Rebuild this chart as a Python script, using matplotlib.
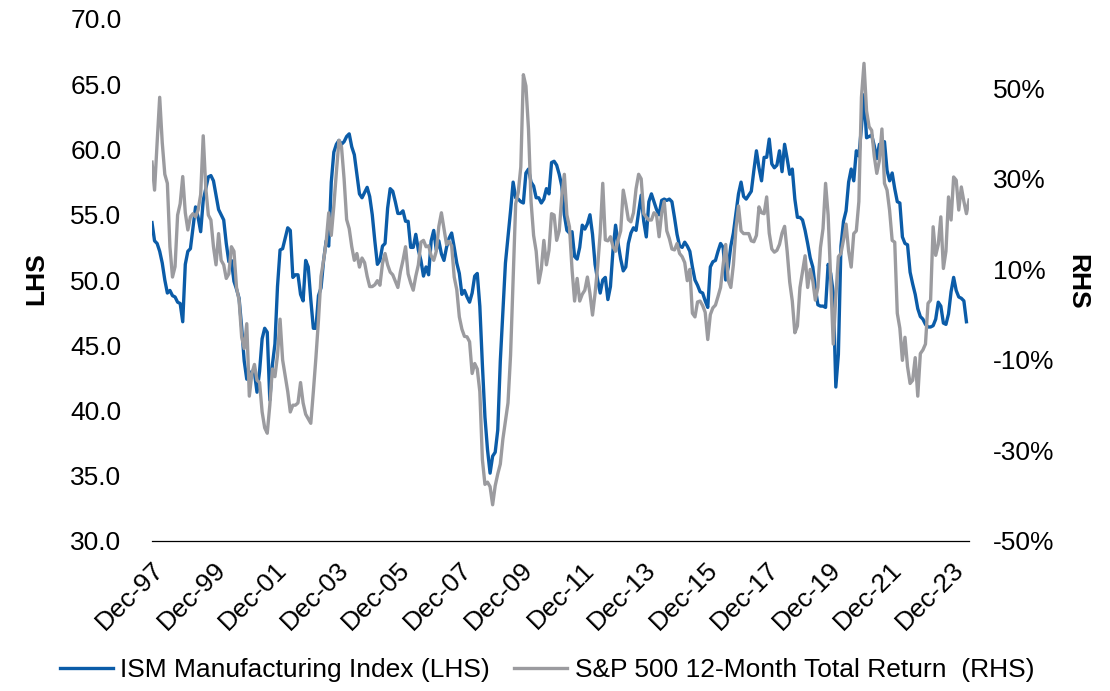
import numpy as np
import matplotlib
matplotlib.use("Agg")
import matplotlib.pyplot as plt
from matplotlib.ticker import FuncFormatter

plt.rcParams['font.family'] = ['Liberation Sans', 'DejaVu Sans']

# monthly, starting Dec-97
ism = [
    54.4, 53.0, 52.8, 52.2, 51.3, 50.0, 49.0, 49.2, 48.8, 48.7, 48.3, 48.2,
    46.8, 51.2, 52.2, 52.4, 54.0, 55.6, 54.8, 53.7, 56.1, 57.0, 57.9, 58.0,
    57.6, 56.5, 55.4, 55.0, 54.6, 52.8, 51.4, 51.5, 49.9, 49.3, 48.6, 46.4,
    43.8, 42.4, 42.7, 43.0, 42.9, 41.4, 43.0, 45.5, 46.3, 46.0, 40.8, 43.5,
    45.1, 49.5, 52.3, 52.4, 53.2, 54.0, 53.8, 50.2, 50.4, 50.4, 48.9, 48.4,
    51.5, 51.0, 48.5, 46.3, 46.3, 48.8, 49.4, 51.5, 53.0, 52.6, 57.5, 59.8,
    60.4, 60.7, 60.4, 60.6, 61.0, 61.2, 60.2, 59.6, 58.1, 56.6, 56.3, 56.7,
    57.1, 56.4, 55.0, 53.0, 51.2, 51.5, 52.6, 52.8, 55.5, 57.0, 56.8, 56.0,
    55.1, 55.1, 55.3, 54.5, 54.5, 52.5, 52.5, 53.5, 52.3, 51.5, 50.3, 51.0,
    50.4, 53.0, 53.8, 52.3, 53.0, 52.0, 51.5, 52.5, 53.2, 53.6, 52.5, 51.3,
    50.5, 48.9, 49.2, 48.7, 48.3, 49.0, 50.3, 50.5, 48.0, 43.5, 39.5, 37.0,
    35.2, 36.5, 36.8, 38.5, 43.8, 47.5, 51.3, 53.3, 55.3, 57.5, 56.3, 56.2,
    56.0, 55.9, 58.2, 58.5, 57.5, 57.2, 56.3, 56.3, 55.9, 56.2, 57.0, 56.6,
    59.0, 59.1, 58.8, 58.1, 57.2, 55.0, 53.8, 53.6, 53.7, 51.8, 51.6, 52.5,
    54.2, 53.9, 54.3, 55.0, 53.5, 51.2, 50.0, 49.0, 50.0, 50.2, 48.5, 49.5,
    52.3, 54.2, 52.8, 51.6, 50.7, 51.0, 52.8, 53.6, 54.0, 53.8, 55.2, 56.5,
    54.5, 53.3, 56.0, 56.6, 56.0, 55.4, 55.0, 56.1, 56.2, 56.1, 56.2, 56.0,
    54.8, 53.5, 52.6, 52.5, 52.9, 52.6, 52.2, 51.0, 50.0, 49.6, 49.1, 49.0,
    48.4, 47.9, 51.0, 51.4, 51.5, 52.2, 52.8, 52.5, 50.0, 51.0, 52.6, 53.6,
    55.1, 56.6, 57.5, 56.4, 56.2, 56.5, 56.8, 58.4, 59.9, 58.6, 57.6, 59.4,
    59.4, 60.8, 58.9, 58.6, 58.8, 59.9, 58.3, 60.4, 59.3, 58.1, 58.5, 56.2,
    54.8, 54.8, 54.6, 53.8, 52.8, 51.7, 51.0, 49.4, 48.1, 48.0, 48.0, 47.9,
    51.2, 50.5, 49.0, 41.8, 44.3, 52.6, 54.5, 55.3, 57.5, 58.5, 57.6, 59.9,
    59.5, 61.7, 64.2, 60.9, 61.0, 61.1, 60.3, 59.3, 60.4, 60.2, 60.6, 58.4,
    57.6, 58.2, 57.0, 56.0, 55.9, 53.3, 52.8, 52.7, 50.6, 49.7, 48.9, 47.8,
    47.2, 47.0, 46.6, 46.4, 46.4, 46.5, 47.0, 48.3, 48.0, 46.7, 46.6, 47.4,
    49.1, 50.2, 49.2, 48.7, 48.6, 48.4, 46.8,
]

sp500 = [
    33.7, 27.5, 38.0, 48.0, 38.0, 31.0, 29.0, 15.0, 8.3, 10.6, 22.0, 24.5,
    30.5, 22.5, 18.7, 21.6, 22.3, 21.6, 23.1, 26.5, 39.5, 28.0, 22.0, 20.9,
    15.0, 11.0, 17.9, 12.0, 11.0, 8.0, 9.0, 15.0, 14.0, 6.0, 3.2, -4.9,
    -7.5, -2.0, -18.0, -13.0, -11.0, -14.5, -15.0, -21.5, -25.0, -26.2, -20.0, -12.0,
    -13.7, -9.0, -1.0, -10.0, -13.5, -17.0, -21.5, -20.0, -20.0, -19.5, -15.0, -19.5,
    -22.0, -23.0, -24.0, -17.0, -9.5, -1.2, 8.5, 12.0, 16.0, 22.5, 17.5, 24.0,
    31.5, 38.5, 37.0, 30.0, 21.0, 19.0, 15.0, 12.0, 13.5, 10.5, 12.5, 11.5,
    8.5, 6.2, 6.2, 6.6, 7.5, 6.5, 11.3, 13.5, 11.0, 9.4, 8.8, 7.4,
    6.0, 9.5, 12.0, 15.0, 9.0, 7.0, 5.4, 8.5, 11.0, 16.0, 16.4, 15.0,
    15.2, 13.0, 12.0, 14.0, 19.5, 22.5, 19.0, 15.5, 16.2, 15.2, 8.3, 5.5,
    -0.5, -3.2, -4.8, -4.9, -6.0, -13.0, -10.8, -12.0, -17.0, -32.0, -37.5, -37.0,
    -38.0, -42.0, -37.8, -35.2, -33.0, -27.5, -23.5, -19.5, -9.0, 8.0, 24.5, 27.0,
    32.6, 53.0, 50.5, 41.0, 25.0, 17.5, 14.0, 7.0, 10.0, 16.4, 11.0, 14.2,
    22.3, 22.0, 16.4, 18.5, 26.0, 31.0, 22.0, 19.4, 10.0, 3.0, 8.0, 3.0,
    4.5, 5.4, 8.3, 4.7, -0.1, 4.7, 10.6, 18.0, 29.0, 16.5, 16.3, 17.2,
    15.0, 14.0, 16.5, 18.5, 27.5, 24.5, 21.0, 20.5, 22.5, 27.8, 31.0, 30.0,
    22.3, 21.5, 20.9, 20.9, 22.5, 22.0, 17.2, 22.5, 25.0, 18.5, 16.8, 14.5,
    14.3, 15.7, 13.5, 12.8, 11.5, 7.5, 10.0, 0.3, -0.5, 2.8, 3.0, 2.0,
    0.5, -5.5, 0.0, 1.5, 2.1, 4.0, 6.0, 11.0, 15.5, 7.5, 6.0, 11.0,
    19.0, 24.0, 18.5, 17.9, 17.9, 17.9, 16.3, 16.1, 17.5, 23.8, 22.5, 22.3,
    26.0, 18.0, 14.5, 13.8, 14.2, 15.5, 18.0, 19.5, 14.0, 7.2, 3.0, -4.0,
    -2.5, 6.0, 9.5, 13.0, 6.0, 10.0, 7.5, 3.2, 6.0, 14.8, 19.0, 29.0,
    22.0, 8.0, -6.5, 4.0, 12.8, 13.5, 16.5, 20.0, 14.0, 10.5, 17.9, 18.5,
    25.0, 48.0, 55.5, 45.0, 41.5, 40.7, 35.0, 31.2, 34.0, 41.0, 29.0, 27.5,
    23.0, 16.4, 16.0, 0.3, -3.0, -10.1, -5.0, -11.5, -15.2, -14.5, -9.5, -18.0,
    -8.6, -7.8, -6.5, 2.5, 3.2, 19.4, 13.1, 15.5, 21.6, 10.2, 14.0, 26.0,
    20.9, 30.4, 29.7, 23.1, 28.2, 25.0, 22.3, 25.3,
]

years = ['97', '99', '01', '03', '05', '07', '09', '11', '13', '15', '17', '19', '21', '23']
xlabels = ['Dec-' + y for y in years]

blue = '#0B5CA8'
grey = '#9B9B9F'
fs = 19

fig = plt.figure(figsize=(11.1, 6.91), dpi=100)
ax = fig.add_axes([152 / 1110, 1 - 541 / 691, (969 - 152) / 1110, (541 - 19) / 691])
ax2 = ax.twinx()

x_ism = np.arange(len(ism))
x_sp = np.arange(len(sp500))
l1, = ax.plot(x_ism, ism, color=blue, lw=2.4, label='ISM Manufacturing Index (LHS)',
              solid_joinstyle='round')
l2, = ax2.plot(x_sp, sp500, color=grey, lw=2.4, label='S&P 500 12-Month Total Return  (RHS)',
               solid_joinstyle='round')

ax.set_xlim(0, len(sp500) - 1)
ax.set_ylim(30, 70)
ax.set_yticks(np.arange(30, 71, 5))
ax.yaxis.set_major_formatter(FuncFormatter(lambda v, p: f'{v:.1f}'))
ax2.set_ylim(-50, 65.3)
ax2.set_yticks(np.arange(-50, 51, 20))
ax2.yaxis.set_major_formatter(FuncFormatter(lambda v, p: f'{v:.0f}%'))

ax.set_xticks(np.arange(0, len(sp500), 24))
ax.set_xticklabels(xlabels, rotation=45, ha='right', va='top', rotation_mode='anchor')

for a in (ax, ax2):
    for s in ('top', 'left', 'right', 'bottom'):
        a.spines[s].set_visible(False)
ax.spines['bottom'].set_visible(True)
ax.spines['bottom'].set_linewidth(0.9)
ax.spines['bottom'].set_color('black')

ax.tick_params(axis='y', length=0, pad=22, labelsize=fs)
ax.tick_params(axis='x', length=0, pad=12, labelsize=fs)
ax2.tick_params(axis='y', length=0, pad=17, labelsize=fs)

fig.text(36 / 1110, 1 - 279 / 691, 'LHS', rotation=90, fontsize=fs, fontweight='bold',
         ha='center', va='center')
fig.text(1077 / 1110, 1 - 282 / 691, 'RHS', rotation=270, fontsize=fs, fontweight='bold',
         ha='center', va='center')

fig.legend(handles=[l1, l2], loc='center', bbox_to_anchor=(547 / 1110, 1 - 670 / 691),
           ncol=2, frameon=False, fontsize=fs, handlelength=2.0, handletextpad=0.3,
           columnspacing=0.9)

fig.savefig('out.png', dpi=100)
